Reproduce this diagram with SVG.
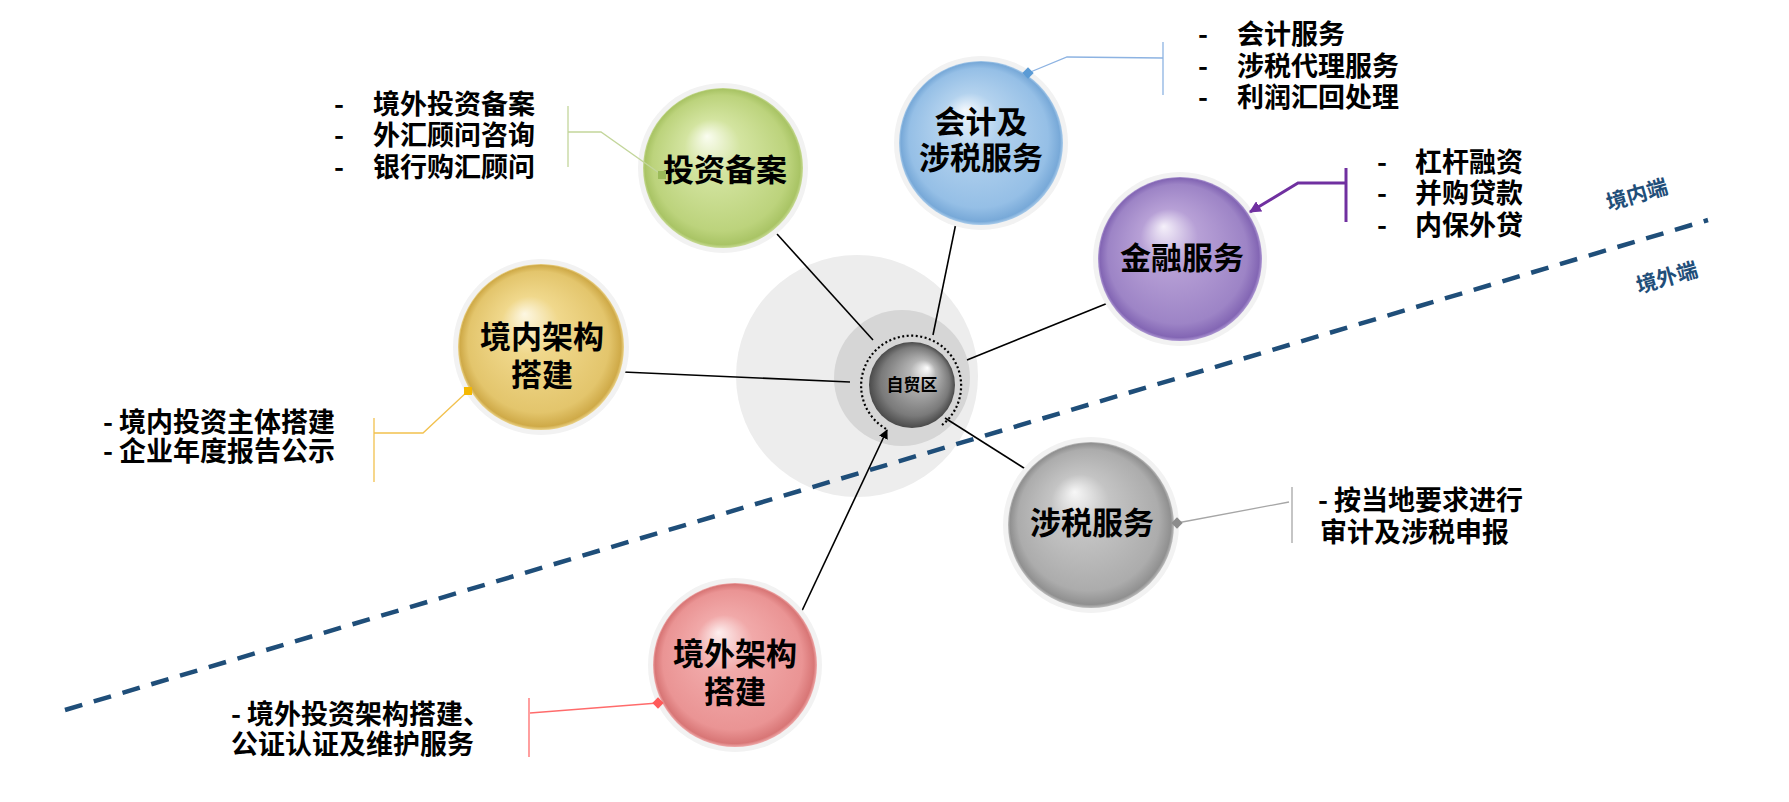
<svg xmlns="http://www.w3.org/2000/svg" width="1789" height="802" viewBox="0 0 1789 802">
<style>
.node{font-family:"Noto Sans CJK SC","Noto Sans",sans-serif;font-weight:700;font-size:31px;fill:#000;text-anchor:middle}
.call{font-family:"Noto Sans CJK SC","Noto Sans",sans-serif;font-weight:700;font-size:27px;fill:#000}
.side{font-family:"Noto Sans CJK SC","Noto Sans",sans-serif;font-weight:700;font-size:21px;fill:#1f4e79;text-anchor:middle}
.conn{stroke:#000;stroke-width:1.6;fill:none}
.halo{fill:#f2f2f2}
</style>
<defs>
<radialGradient id="gGreen" cx="0.5" cy="0.5" r="0.5" fx="0.4" fy="0.3"><stop offset="0" stop-color="#fafdf0"/><stop offset="0.35" stop-color="#d3e4a0"/><stop offset="0.85" stop-color="#bcd37c"/><stop offset="0.97" stop-color="#a9c465"/><stop offset="1" stop-color="#c7da94"/></radialGradient>
<radialGradient id="gBlue" cx="0.5" cy="0.5" r="0.5" fx="0.4" fy="0.3"><stop offset="0" stop-color="#f3f8fd"/><stop offset="0.35" stop-color="#b3d2ee"/><stop offset="0.85" stop-color="#95bfe6"/><stop offset="0.97" stop-color="#78a9d8"/><stop offset="1" stop-color="#a9cbea"/></radialGradient>
<radialGradient id="gPurple" cx="0.5" cy="0.5" r="0.5" fx="0.4" fy="0.3"><stop offset="0" stop-color="#f5f0fa"/><stop offset="0.35" stop-color="#b7a0d6"/><stop offset="0.85" stop-color="#9d84c6"/><stop offset="0.97" stop-color="#8366b4"/><stop offset="1" stop-color="#ad97d2"/></radialGradient>
<radialGradient id="gYellow" cx="0.5" cy="0.5" r="0.5" fx="0.4" fy="0.3"><stop offset="0" stop-color="#fdf7e2"/><stop offset="0.35" stop-color="#f0d88c"/><stop offset="0.85" stop-color="#e3c56c"/><stop offset="0.97" stop-color="#cfaa48"/><stop offset="1" stop-color="#ebd38a"/></radialGradient>
<radialGradient id="gGray" cx="0.5" cy="0.5" r="0.5" fx="0.4" fy="0.3"><stop offset="0" stop-color="#f7f7f7"/><stop offset="0.35" stop-color="#c4c4c4"/><stop offset="0.85" stop-color="#acacac"/><stop offset="0.97" stop-color="#909090"/><stop offset="1" stop-color="#bdbdbd"/></radialGradient>
<radialGradient id="gPink" cx="0.5" cy="0.5" r="0.5" fx="0.4" fy="0.3"><stop offset="0" stop-color="#fdeeee"/><stop offset="0.35" stop-color="#f1a9a9"/><stop offset="0.85" stop-color="#ea9494"/><stop offset="0.97" stop-color="#d87676"/><stop offset="1" stop-color="#efaaaa"/></radialGradient>
<radialGradient id="gHub" cx="0.5" cy="0.5" r="0.5" fx="0.68" fy="0.3"><stop offset="0" stop-color="#ffffff"/><stop offset="0.3" stop-color="#b5b5b5"/><stop offset="0.8" stop-color="#7a7a7a"/><stop offset="1" stop-color="#4a4a4a"/></radialGradient>
<marker id="arrBlack" viewBox="0 0 10 10" refX="9" refY="5" markerWidth="6" markerHeight="6" orient="auto"><path d="M0,0 L10,5 L0,10 z" fill="#000"/></marker>
<marker id="arrPurple" viewBox="0 0 10 10" refX="9" refY="5" markerWidth="4" markerHeight="4" orient="auto"><path d="M0,0 L10,5 L0,10 z" fill="#7030a0"/></marker>
</defs>
<rect width="1789" height="802" fill="#fff"/>

<!-- background circles -->
<circle cx="857" cy="376" r="121" fill="#ededed"/>
<circle cx="902" cy="378" r="68" fill="#d6d6d6"/>

<!-- boundary line -->
<g id="boundary">
<line x1="65" y1="710" x2="1708" y2="220" stroke="#1f4e79" stroke-width="4.5" stroke-dasharray="18 12"/>
<text class="side" x="1637" y="202" transform="rotate(-16 1637 195)">境内端</text>
<text class="side" x="1667" y="285" transform="rotate(-16 1667 278)">境外端</text>
</g>

<!-- connectors -->
<g id="connectors">
<line class="conn" x1="777" y1="234" x2="873" y2="340"/>
<line class="conn" x1="957" y1="218" x2="933" y2="335"/>
<line class="conn" x1="1108" y1="303" x2="967" y2="360"/>
<line class="conn" x1="623" y1="372" x2="850" y2="382"/>
<line class="conn" x1="1027" y1="470" x2="945" y2="418"/>
<line class="conn" x1="800" y1="615" x2="887" y2="430" marker-end="url(#arrBlack)"/>
</g>

<!-- hub -->
<g id="hub">
<path d="M942,425 A50,50 0 1 0 888,430" fill="none" stroke="#000" stroke-width="2.2" stroke-dasharray="2 2.5"/>
<circle cx="912" cy="385" r="43" fill="url(#gHub)"/>
<text class="node" x="912" y="391" style="font-size:17px">自贸区</text>
</g>

<g id="n-touzi">
<circle class="halo" cx="723" cy="168" r="85"/>
<circle cx="723" cy="168" r="80" fill="url(#gGreen)"/>
<text class="node" x="725" y="181">投资备案</text>
</g>
<g id="n-kuaiji">
<circle class="halo" cx="981" cy="143" r="87"/>
<circle cx="981" cy="143" r="82" fill="url(#gBlue)"/>
<text class="node" x="981" y="133">会计及</text>
<text class="node" x="981" y="169">涉税服务</text>
</g>
<g id="n-jinrong">
<circle class="halo" cx="1180" cy="259" r="87"/>
<circle cx="1180" cy="259" r="82" fill="url(#gPurple)"/>
<text class="node" x="1182" y="269">金融服务</text>
</g>
<g id="n-jingnei">
<circle class="halo" cx="541" cy="347" r="88"/>
<circle cx="541" cy="347" r="83" fill="url(#gYellow)"/>
<text class="node" x="542" y="348">境内架构</text>
<text class="node" x="542" y="386">搭建</text>
</g>
<g id="n-shewui">
<circle class="halo" cx="1091" cy="525" r="88"/>
<circle cx="1091" cy="525" r="83" fill="url(#gGray)"/>
<text class="node" x="1092" y="534">涉税服务</text>
</g>
<g id="n-jingwai">
<circle class="halo" cx="735" cy="665" r="87"/>
<circle cx="735" cy="665" r="82" fill="url(#gPink)"/>
<text class="node" x="735" y="665">境外架构</text>
<text class="node" x="735" y="703">搭建</text>
</g>

<!-- callout leaders -->
<g id="callout-connectors">
<polyline points="568,132 601,132 662,175" fill="none" stroke="#c3d69b" stroke-width="1.3"/>
<line x1="568" y1="106" x2="568" y2="167" stroke="#c3d69b" stroke-width="1.3"/>
<rect x="658" y="171" width="8" height="8" fill="#9bbb59"/>
<polyline points="1163,58 1067,57 1028,73" fill="none" stroke="#8db3e2" stroke-width="1.3"/>
<line x1="1163" y1="42" x2="1163" y2="95" stroke="#8db3e2" stroke-width="1.3"/>
<rect x="1024" y="69" width="8" height="8" fill="#5b9bd5" transform="rotate(45 1028 73)"/>
<polyline points="1346,183 1298,183 1250,212" fill="none" stroke="#7030a0" stroke-width="3" marker-end="url(#arrPurple)"/>
<line x1="1346" y1="168" x2="1346" y2="222" stroke="#7030a0" stroke-width="3"/>
<polyline points="468,391 423,433 374,433" fill="none" stroke="#f2c14e" stroke-width="1.3"/>
<line x1="374" y1="418" x2="374" y2="482" stroke="#f2c14e" stroke-width="1.3"/>
<rect x="464" y="387" width="8" height="8" fill="#f5b800"/>
<polyline points="1177,523 1289,502" fill="none" stroke="#a6a6a6" stroke-width="1.3"/>
<line x1="1292" y1="487" x2="1292" y2="543" stroke="#a6a6a6" stroke-width="1.3"/>
<rect x="1173" y="519" width="8" height="8" fill="#8c8c8c" transform="rotate(45 1177 523)"/>
<polyline points="658,703 530,713" fill="none" stroke="#ff6b6b" stroke-width="1.3"/>
<line x1="529" y1="698" x2="529" y2="757" stroke="#ff6b6b" stroke-width="1.3"/>
<rect x="654" y="699" width="8" height="8" fill="#ff5a5a" transform="rotate(45 658 703)"/>
</g>

<!-- callout texts -->
<g id="t-touzi">
<text class="call" y="114"><tspan x="334">-</tspan><tspan x="373">境外投资备案</tspan></text>
<text class="call" y="145"><tspan x="334">-</tspan><tspan x="373">外汇顾问咨询</tspan></text>
<text class="call" y="177"><tspan x="334">-</tspan><tspan x="373">银行购汇顾问</tspan></text>
</g>
<g id="t-kuaiji">
<text class="call" y="44"><tspan x="1198">-</tspan><tspan x="1237">会计服务</tspan></text>
<text class="call" y="76"><tspan x="1198">-</tspan><tspan x="1237">涉税代理服务</tspan></text>
<text class="call" y="107"><tspan x="1198">-</tspan><tspan x="1237">利润汇回处理</tspan></text>
</g>
<g id="t-jinrong">
<text class="call" y="172"><tspan x="1377">-</tspan><tspan x="1415">杠杆融资</tspan></text>
<text class="call" y="203"><tspan x="1377">-</tspan><tspan x="1415">并购贷款</tspan></text>
<text class="call" y="235"><tspan x="1377">-</tspan><tspan x="1415">内保外贷</tspan></text>
</g>
<g id="t-jingnei">
<text class="call" x="103" y="432">- 境内投资主体搭建</text>
<text class="call" x="103" y="461">- 企业年度报告公示</text>
</g>
<g id="t-shewu">
<text class="call" x="1318" y="510">- 按当地要求进行</text>
<text class="call" x="1320" y="542">审计及涉税申报</text>
</g>
<g id="t-jingwai">
<text class="call" x="231" y="724">- 境外投资架构搭建、</text>
<text class="call" x="231" y="754">公证认证及维护服务</text>
</g>
</svg>
